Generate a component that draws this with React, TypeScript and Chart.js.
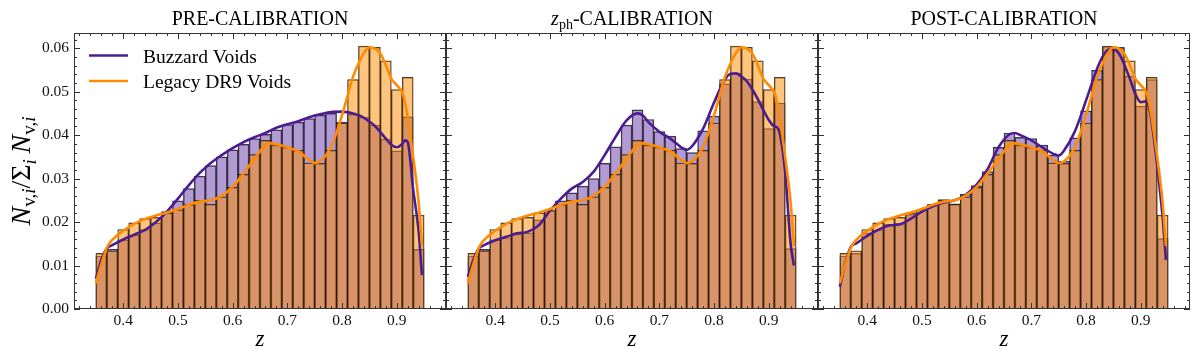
import React, { useEffect, useRef } from "react";
import { Chart, registerables } from "chart.js";

Chart.register(...registerables);

// ---------------- data ----------------
const BIN_CENTERS = [
  0.36, 0.38, 0.40, 0.42, 0.44, 0.46, 0.48, 0.50, 0.52, 0.54,
  0.56, 0.58, 0.60, 0.62, 0.64, 0.66, 0.68, 0.70, 0.72, 0.74,
  0.76, 0.78, 0.80, 0.82, 0.84, 0.86, 0.88, 0.90, 0.92, 0.94,
];

const LEGACY_HIST = [
  0.0128, 0.0134, 0.0183, 0.0198, 0.0208, 0.0211, 0.0221, 0.0228, 0.0240, 0.0250,
  0.0241, 0.0258, 0.0280, 0.0310, 0.0355, 0.0388, 0.0377, 0.0372, 0.0365, 0.0336,
  0.0335, 0.0365, 0.0428, 0.0528, 0.0605, 0.0602, 0.0571, 0.0505, 0.0533, 0.0216,
];

const BUZZARD_PRE_HIST = [
  0.0122, 0.0138, 0.0159, 0.0170, 0.0183, 0.0198, 0.0224, 0.0249, 0.0277, 0.0306,
  0.0330, 0.0350, 0.0366, 0.0379, 0.0392, 0.0402, 0.0412, 0.0424, 0.0430, 0.0438,
  0.0446, 0.0450, 0.0430, 0.0448, 0.0441, 0.0423, 0.0391, 0.0364, 0.0442, 0.0137,
];

const BUZZARD_ZPH_HIST = [
  0.0122, 0.0137, 0.0159, 0.0164, 0.0172, 0.0175, 0.0205, 0.0226, 0.0249, 0.0267,
  0.0283, 0.0300, 0.0335, 0.0373, 0.0423, 0.0458, 0.0436, 0.0408, 0.0398, 0.0369,
  0.0360, 0.0410, 0.0444, 0.0518, 0.0543, 0.0529, 0.0477, 0.0415, 0.0474, 0.0139,
];

const BUZZARD_POST_HIST = [
  0.0122, 0.0128, 0.0175, 0.0182, 0.0195, 0.0197, 0.0218, 0.0228, 0.0240, 0.0252,
  0.0242, 0.0264, 0.0284, 0.0316, 0.0372, 0.0405, 0.0395, 0.0392, 0.0377, 0.0354,
  0.0340, 0.0394, 0.0456, 0.0549, 0.0604, 0.0600, 0.0536, 0.0467, 0.0528, 0.0162,
];

const KDE_Z = [
  0.35, 0.36, 0.37, 0.38, 0.40, 0.42, 0.44, 0.46, 0.48, 0.50,
  0.52, 0.54, 0.56, 0.58, 0.60, 0.62, 0.64, 0.66, 0.67, 0.68,
  0.70, 0.72, 0.74, 0.75, 0.76, 0.78, 0.80, 0.82, 0.83, 0.84,
  0.85, 0.86, 0.87, 0.88, 0.89, 0.90, 0.91, 0.915, 0.92, 0.93,
  0.94, 0.946,
];

const LEGACY_KDE = [
  0.0059, 0.0103, 0.0141, 0.0159, 0.0180, 0.0196, 0.0207, 0.0215, 0.0222, 0.0230,
  0.0240, 0.0247, 0.0250, 0.0261, 0.0281, 0.0312, 0.0346, 0.0377, 0.0381, 0.0379,
  0.0372, 0.0363, 0.0343, 0.0336, 0.0340, 0.0373, 0.0446, 0.0534, 0.0565, 0.0589,
  0.0602, 0.0599, 0.0588, 0.0561, 0.0530, 0.0515, 0.0498, 0.0475, 0.0440, 0.0350,
  0.0245, 0.0145,
];

const BUZZARD_PRE_KDE = [
  0.0070, 0.0113, 0.0139, 0.0147, 0.0160, 0.0171, 0.0182, 0.0200, 0.0224, 0.0254,
  0.0285, 0.0313, 0.0336, 0.0354, 0.0370, 0.0384, 0.0395, 0.0405, 0.0411, 0.0417,
  0.0425, 0.0432, 0.0441, 0.0445, 0.0448, 0.0453, 0.0454, 0.0450, 0.0446, 0.0440,
  0.0431, 0.0421, 0.0407, 0.0392, 0.0378, 0.0372, 0.0380, 0.0388, 0.0384, 0.0275,
  0.0178, 0.0078,
];

const BUZZARD_ZPH_KDE = [
  0.0074, 0.0113, 0.0139, 0.0147, 0.0158, 0.0166, 0.0174, 0.0178, 0.0193, 0.0226,
  0.0254, 0.0277, 0.0292, 0.0316, 0.0354, 0.0396, 0.0434, 0.0450, 0.0445, 0.0430,
  0.0408, 0.0392, 0.0372, 0.0366, 0.0375, 0.0415, 0.0475, 0.0528, 0.0541, 0.0542,
  0.0535, 0.0524, 0.0505, 0.0483, 0.0458, 0.0435, 0.0420, 0.0418, 0.0405, 0.0315,
  0.0150, 0.0100,
];

const BUZZARD_POST_KDE = [
  0.0051, 0.0105, 0.0143, 0.0151, 0.0168, 0.0182, 0.0192, 0.0195, 0.0208, 0.0224,
  0.0236, 0.0245, 0.0250, 0.0263, 0.0286, 0.0322, 0.0372, 0.0402, 0.0405, 0.0400,
  0.0388, 0.0372, 0.0357, 0.0353, 0.0365, 0.0410, 0.0480, 0.0552, 0.0580, 0.0596,
  0.0598, 0.0588, 0.0562, 0.0530, 0.0495, 0.0476, 0.0478, 0.0465, 0.0430, 0.0330,
  0.0210, 0.0113,
];

const X_TICKS = [0.4, 0.5, 0.6, 0.7, 0.8, 0.9];
const Y_TICKS = [0.0, 0.01, 0.02, 0.03, 0.04, 0.05, 0.06];
const LEGEND_LABELS = ["Buzzard Voids", "Legacy DR9 Voids"];

// ---------------- style ----------------
const W = 1200;
const H = 349;
const TOP = 33;
const X_AXIS_H = 40;
const PANELS = [
  { left: 74, right: 446 },
  { left: 446, right: 818 },
  { left: 818, right: 1190 },
];
const X_MIN = 0.31;
const X_MAX = 0.99;
const Y_MIN = 0;
const Y_MAX = 0.0635;

const SERIF = '"Liberation Serif", "Times New Roman", serif';
const PURPLE_LINE = "#4b1c91";
const ORANGE_LINE = "#ff8c00";
const PURPLE_BAR = "rgba(100, 55, 165, 0.5)";
const ORANGE_BAR = "rgba(255, 140, 0, 0.5)";
const EDGE = "rgba(20, 20, 20, 0.85)";
const FRAME = "#333";

type Seg = { t: string; f: string; dy?: number };

const f = (style: string, size: number) => `${style} ${size}px ${SERIF}`;

const TITLE_SEGS: Seg[][] = [
  [{ t: "PRE-CALIBRATION", f: f("normal", 20) }],
  [
    { t: "z", f: f("italic", 20) },
    { t: "ph", f: f("normal", 14), dy: 4 },
    { t: "-CALIBRATION", f: f("normal", 20) },
  ],
  [{ t: "POST-CALIBRATION", f: f("normal", 20) }],
];

const YLABEL_SEGS: Seg[] = [
  { t: "N", f: f("italic", 28) },
  { t: "v,", f: f("normal", 19), dy: 5 },
  { t: "i", f: f("italic", 19), dy: 5 },
  { t: "/", f: f("normal", 28) },
  { t: "Σ", f: f("normal", 28) },
  { t: "i", f: f("italic", 19), dy: 6 },
  { t: "\u2009", f: f("normal", 28) },
  { t: "N", f: f("italic", 28) },
  { t: "v,", f: f("normal", 19), dy: 5 },
  { t: "i", f: f("italic", 19), dy: 5 },
];

function richWidth(ctx: CanvasRenderingContext2D, segs: Seg[]) {
  let w = 0;
  for (const s of segs) {
    ctx.font = s.f;
    w += ctx.measureText(s.t).width;
  }
  return w;
}

function drawRich(ctx: CanvasRenderingContext2D, segs: Seg[], x: number, y: number) {
  let cx = x;
  ctx.textAlign = "left";
  ctx.textBaseline = "alphabetic";
  for (const s of segs) {
    ctx.font = s.f;
    ctx.fillText(s.t, cx, y + (s.dy || 0));
    cx += ctx.measureText(s.t).width;
  }
}

function framePlugin() {
  return {
    id: "frameTicks",
    afterDraw(chart: any) {
      const { ctx, chartArea: a, scales } = chart;
      const xs = scales.x;
      const ys = scales.y;
      ctx.save();
      ctx.strokeStyle = FRAME;
      ctx.lineWidth = 1;
      ctx.strokeRect(a.left + 0.5, a.top + 0.5, a.right - a.left - 1, a.bottom - a.top - 1);
      const vline = (px: number, len: number) => {
        ctx.beginPath();
        ctx.moveTo(px, a.bottom);
        ctx.lineTo(px, a.bottom - len);
        ctx.moveTo(px, a.top);
        ctx.lineTo(px, a.top + len);
        ctx.stroke();
      };
      const hline = (py: number, len: number) => {
        ctx.beginPath();
        ctx.moveTo(a.left, py);
        ctx.lineTo(a.left + len, py);
        ctx.moveTo(a.right, py);
        ctx.lineTo(a.right - len, py);
        ctx.stroke();
      };
      for (const v of X_TICKS) vline(Math.round(xs.getPixelForValue(v)) + 0.5, 6);
      for (let i = 16; i <= 49; i++) {
        if (i % 5 === 0) continue;
        const v = i * 0.02;
        if (v <= X_MIN || v >= X_MAX) continue;
        vline(Math.round(xs.getPixelForValue(v)) + 0.5, 3);
      }
      for (const v of Y_TICKS) hline(Math.round(ys.getPixelForValue(v)) + 0.5, 6);
      for (let j = 1; j <= 31; j++) {
        if (j % 5 === 0) continue;
        const v = j * 0.002;
        if (v >= Y_MAX) continue;
        hline(Math.round(ys.getPixelForValue(v)) + 0.5, 3);
      }
      ctx.restore();
    },
  };
}

function textPlugin(idx: number) {
  return {
    id: "panelText",
    afterDraw(chart: any) {
      const { ctx, chartArea: a } = chart;
      const cx = (a.left + a.right) / 2;
      ctx.save();
      ctx.fillStyle = "#000";
      const segs = TITLE_SEGS[idx];
      const w = richWidth(ctx, segs);
      drawRich(ctx, segs, cx - w / 2, 25);
      ctx.font = f("italic", 23);
      ctx.textAlign = "center";
      ctx.textBaseline = "alphabetic";
      ctx.fillText("z", cx, 346);
      if (idx === 0) {
        // legend
        const items = [
          { color: PURPLE_LINE, y: 55.5, label: LEGEND_LABELS[0] },
          { color: ORANGE_LINE, y: 81, label: LEGEND_LABELS[1] },
        ];
        for (const it of items) {
          ctx.strokeStyle = it.color;
          ctx.lineWidth = 2.5;
          ctx.beginPath();
          ctx.moveTo(89, it.y);
          ctx.lineTo(128, it.y);
          ctx.stroke();
          ctx.font = f("normal", 19.5);
          ctx.textAlign = "left";
          ctx.fillStyle = "#000";
          ctx.fillText(it.label, 143, it.y + 7);
        }
        // y label
        const yw = richWidth(ctx, YLABEL_SEGS);
        ctx.save();
        ctx.translate(30, (a.top + a.bottom) / 2);
        ctx.rotate(-Math.PI / 2);
        drawRich(ctx, YLABEL_SEGS, -yw / 2, 0);
        ctx.restore();
      }
      ctx.restore();
    },
  };
}

function makeConfig(idx: number): any {
  const panel = PANELS[idx];
  const buzzHist = [BUZZARD_PRE_HIST, BUZZARD_ZPH_HIST, BUZZARD_POST_HIST][idx];
  const buzzKde = [BUZZARD_PRE_KDE, BUZZARD_ZPH_KDE, BUZZARD_POST_KDE][idx];
  const showY = idx === 0;
  return {
    type: "bar",
    data: {
      datasets: [
        {
          type: "line",
          label: LEGEND_LABELS[1],
          data: KDE_Z.map((x, i) => ({ x, y: LEGACY_KDE[i] })),
          borderColor: ORANGE_LINE,
          borderWidth: 2.6,
          pointRadius: 0,
          fill: false,
          cubicInterpolationMode: "monotone",
          order: 0,
        },
        {
          type: "line",
          label: LEGEND_LABELS[0],
          data: KDE_Z.map((x, i) => ({ x, y: buzzKde[i] })),
          borderColor: PURPLE_LINE,
          borderWidth: 2.6,
          pointRadius: 0,
          fill: false,
          cubicInterpolationMode: "monotone",
          order: 1,
        },
        {
          type: "bar",
          label: LEGEND_LABELS[1] + " hist",
          data: BIN_CENTERS.map((x, i) => ({ x, y: LEGACY_HIST[i] })),
          backgroundColor: ORANGE_BAR,
          borderColor: EDGE,
          borderWidth: 0.8,
          barPercentage: 1,
          categoryPercentage: 1,
          grouped: false,
          order: 2,
        },
        {
          type: "bar",
          label: LEGEND_LABELS[0] + " hist",
          data: BIN_CENTERS.map((x, i) => ({ x, y: buzzHist[i] })),
          backgroundColor: PURPLE_BAR,
          borderColor: EDGE,
          borderWidth: 0.8,
          barPercentage: 1,
          categoryPercentage: 1,
          grouped: false,
          order: 3,
        },
      ],
    },
    options: {
      responsive: false,
      animation: false,
      devicePixelRatio: 1,
      layout: {
        padding: {
          left: idx === 0 ? 0 : panel.left,
          right: W - panel.right,
          top: TOP,
          bottom: 0,
        },
      },
      plugins: {
        legend: { display: false },
        tooltip: { enabled: false },
        title: { display: false },
      },
      scales: {
        x: {
          type: "linear",
          min: X_MIN,
          max: X_MAX,
          offset: false,
          grid: { display: false, drawTicks: false, tickLength: 0 },
          border: { display: false },
          ticks: {
            autoSkip: false,
            maxRotation: 0,
            padding: 3,
            color: "#111",
            font: { family: SERIF, size: 15.5 },
            callback: (v: any) => Number(v).toFixed(1),
          },
          afterBuildTicks: (s: any) => {
            s.ticks = X_TICKS.map((v) => ({ value: v }));
          },
          afterFit: (s: any) => {
            s.height = X_AXIS_H;
          },
        },
        y: {
          type: "linear",
          min: Y_MIN,
          max: Y_MAX,
          display: showY,
          grid: { display: false, drawTicks: false, tickLength: 0 },
          border: { display: false },
          ticks: {
            padding: 5,
            color: "#111",
            font: { family: SERIF, size: 15.5 },
            callback: (v: any) => Number(v).toFixed(2),
          },
          afterBuildTicks: (s: any) => {
            s.ticks = Y_TICKS.map((v) => ({ value: v }));
          },
          afterFit: (s: any) => {
            if (showY) s.width = panel.left;
          },
        },
      },
    },
    plugins: [framePlugin(), textPlugin(idx)],
  };
}

export default function App() {
  const refs = useRef<(HTMLCanvasElement | null)[]>([null, null, null]);
  useEffect(() => {
    const charts = [0, 1, 2].map((i) => new Chart(refs.current[i] as HTMLCanvasElement, makeConfig(i)));
    return () => charts.forEach((c) => c.destroy());
  }, []);
  return (
    <div style={{ position: "absolute", left: 0, top: 0, width: W, height: H, background: "#fff" }}>
      {[0, 1, 2].map((i) => (
        <canvas
          key={i}
          ref={(el) => {
            refs.current[i] = el;
          }}
          width={W}
          height={H}
          style={{ position: "absolute", left: 0, top: 0, width: W, height: H }}
        />
      ))}
    </div>
  );
}
